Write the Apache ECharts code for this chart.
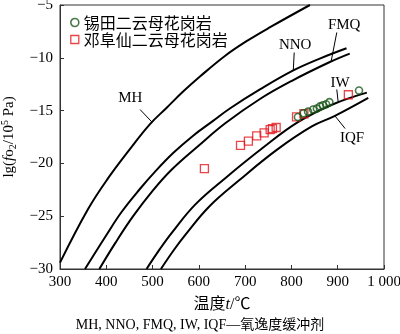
<!DOCTYPE html>
<html>
<head>
<meta charset="utf-8">
<script src="https://cdn.jsdelivr.net/npm/echarts@6/dist/echarts.min.js"></script>
<style>html,body{margin:0;padding:0;background:#fff;}#c{width:400px;height:334px;}</style>
</head>
<body>
<div id="c"></div>
<script>
// Buffer curves: temperature (°C) and lg(fO2)
const mhT = [300, 361, 404, 451, 494, 530, 566, 603, 657, 704, 754, 840];
const mhLg = [-29.4, -24.3, -21.4, -18.65, -16.3, -14.75, -13.2, -11.75, -9.8, -8.4, -7.1, -5.0];
const nnoT = [354, 400, 433, 473, 505, 545, 587, 630, 667, 732, 804, 860, 919];
const nnoLg = [-30, -26.8, -24.6, -22.4, -20.8, -19.0, -17.4, -16.0, -14.8, -13.0, -11.2, -10.1, -9.1];
const fmqT = [385, 420, 458, 500, 541, 600, 657, 732, 800, 883, 926];
const fmqLg = [-30, -27.5, -25.0, -22.6, -20.6, -18.3, -16.2, -13.9, -12.2, -10.4, -9.6];
const iwT = [487, 516, 541, 592, 657, 739, 814, 890, 963];
const iwLg = [-30, -28.1, -26.6, -23.9, -21.4, -18.5, -16.1, -14.4, -13.3];
const iqfT = [518, 546, 572, 622, 687, 769, 844, 894, 966];
const iqfLg = [-30, -28.2, -26.7, -24.1, -21.6, -18.7, -16.5, -15.5, -13.8];

// Samples
const xitianName = '锡田二云母花岗岩';
const xitianT = [814, 826, 836, 847, 855, 862, 868, 875, 882, 946];
const xitianLg = [-15.6, -15.25, -15.1, -14.9, -14.8, -14.6, -14.5, -14.4, -14.2, -13.1];
const dengfuxianName = '邓阜仙二云母花岗岩';
const dengfuxianT = [612, 690, 707, 725, 741, 754, 759, 767, 811, 827, 923];
const dengfuxianLg = [-20.5, -18.3, -17.9, -17.4, -17.1, -16.8, -16.7, -16.6, -15.6, -15.3, -13.5];

// Axis ticks
const xTicks = [300, 400, 500, 600, 700, 800, 900, 1000];
const xTickLabels = ['300', '400', '500', '600', '700', '800', '900', '1 000'];
const yTicks = [-30, -25, -20, -15, -10, -5];
const yTickLabels = ['−30', '−25', '−20', '−15', '−10', '−5'];

const zip = (a, b) => a.map((v, i) => [v, b[i]]);
const serif = "'Liberation Serif','Noto Sans CJK SC',serif";
const cjk = "'Noto Sans CJK SC','Liberation Serif',serif";

const curves = [
  ['MH', mhT, mhLg],
  ['NNO', nnoT, nnoLg],
  ['FMQ', fmqT, fmqLg],
  ['IW', iwT, iwLg],
  ['IQF', iqfT, iqfLg]
];

// curve annotations in data coordinates: label position, leader from, leader to
const notes = {
  MH: {label: [452, -13.8], from: [473, -14.9], to: [499, -16.1]},
  NNO: {label: [808, -8.8], from: [806, -9.5], to: [804, -11.2]},
  FMQ: {label: [914, -6.9], from: [898, -7.6], to: [886, -10.3]},
  IW: {label: [905, -12.4], from: [898, -13.0], to: [901, -14.2]},
  IQF: {label: [931, -17.6], from: [916, -16.7], to: [894, -15.5]}
};

const series = curves.map(([name, t, lg]) => ({
  name: name,
  type: 'line',
  data: zip(t, lg),
  smooth: 0.4,
  symbol: 'none',
  lineStyle: {color: '#000', width: 2},
  silent: true,
  z: 2,
  markLine: {
    silent: true,
    symbol: 'none',
    lineStyle: {color: '#000', width: 1, type: 'solid'},
    label: {show: false},
    data: [[{coord: notes[name].from}, {coord: notes[name].to}]]
  },
  markPoint: {
    silent: true,
    symbol: 'circle',
    symbolSize: 0,
    label: {show: true, position: 'inside', color: '#000', fontSize: 15, fontFamily: serif, formatter: name},
    data: [{coord: notes[name].label}]
  }
}));

series.push({
  name: xitianName,
  type: 'scatter',
  data: zip(xitianT, xitianLg),
  symbol: 'circle',
  symbolSize: 7,
  itemStyle: {color: 'rgba(255,255,255,0)', borderColor: '#1a581a', borderWidth: 1.6},
  z: 4
});
series.push({
  name: dengfuxianName,
  type: 'scatter',
  data: zip(dengfuxianT, dengfuxianLg),
  symbol: 'rect',
  symbolSize: 8,
  itemStyle: {color: 'rgba(255,255,255,0)', borderColor: '#e3161b', borderWidth: 1.3},
  z: 3
});

const chart = echarts.init(document.getElementById('c'), null, {renderer: 'canvas'});
chart.setOption({
  animation: false,
  backgroundColor: '#fff',
  grid: {left: 60, right: 16, top: 5, bottom: 65, show: true, borderColor: '#333', borderWidth: 1, containLabel: false, outerBoundsMode: 'none'},
  title: {
    text: 'MH, NNO, FMQ, IW, IQF—氧逸度缓冲剂',
    left: 'center', top: 313,
    textStyle: {fontSize: 14, fontWeight: 'normal', color: '#000', fontFamily: serif}
  },
  legend: {
    data: [
      {name: xitianName, icon: 'circle', itemStyle: {color: 'rgba(255,255,255,0)', borderColor: '#1a581a', borderWidth: 1.6}},
      {name: dengfuxianName, icon: 'rect', itemStyle: {color: 'rgba(255,255,255,0)', borderColor: '#e3161b', borderWidth: 1.3}}
    ],
    orient: 'vertical',
    left: 70, top: 14,
    itemWidth: 8, itemHeight: 8, itemGap: 0, padding: 0,
    textStyle: {fontSize: 16, color: '#000', fontFamily: cjk, lineHeight: 17}
  },
  xAxis: {
    type: 'value', min: 300, max: 1000, interval: 100,
    name: '{a|温度}{i|t}{a|/℃}', nameLocation: 'middle', nameGap: 28,
    nameTextStyle: {
      rich: {
        a: {fontSize: 16, color: '#000', fontFamily: serif},
        i: {fontSize: 16, color: '#000', fontFamily: serif, fontStyle: 'italic'}
      }
    },
    axisLine: {lineStyle: {color: '#333', width: 1}},
    axisTick: {inside: true, length: 4, lineStyle: {color: '#333'}},
    splitLine: {show: false},
    axisLabel: {
      fontSize: 15, color: '#000', fontFamily: serif, margin: 6,
      formatter: v => xTickLabels[xTicks.indexOf(v)]
    }
  },
  yAxis: {
    type: 'value', min: -30, max: -5, interval: 5,
    name: '{a|lg(}{i|f}{a|o}{s|2}{a|/10}{p|5}{a| Pa)}', nameLocation: 'middle', nameGap: 42, nameRotate: 90,
    nameTextStyle: {
      rich: {
        a: {fontSize: 15, color: '#000', fontFamily: serif, lineHeight: 18},
        i: {fontSize: 15, color: '#000', fontFamily: serif, fontStyle: 'italic', lineHeight: 18},
        s: {fontSize: 10, color: '#000', fontFamily: serif, verticalAlign: 'bottom', lineHeight: 10},
        p: {fontSize: 10, color: '#000', fontFamily: serif, verticalAlign: 'top', lineHeight: 10}
      }
    },
    axisLine: {lineStyle: {color: '#333', width: 1}},
    axisTick: {inside: true, length: 4, lineStyle: {color: '#333'}},
    splitLine: {show: false},
    axisLabel: {
      fontSize: 15, color: '#000', fontFamily: serif, margin: 7,
      formatter: v => yTickLabels[yTicks.indexOf(v)]
    }
  },
  series: series
});
</script>
</body>
</html>
